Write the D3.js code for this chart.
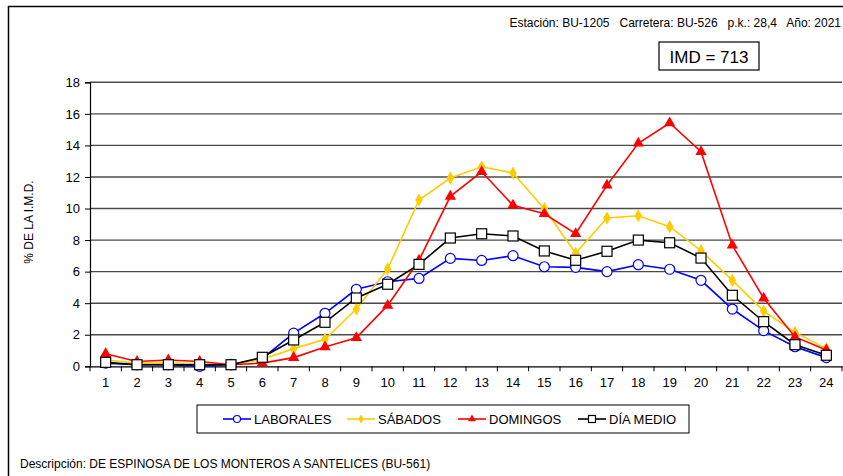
<!DOCTYPE html>
<html>
<head>
<meta charset="utf-8">
<script src="https://cdn.jsdelivr.net/npm/d3@7"></script>
<style>
  body { margin: 0; background: #fff; }
  text { font-family: "Liberation Sans", Arial, sans-serif; }
</style>
</head>
<body>
<script>
var hours = d3.range(1, 25);
var laborales = [0.2, 0.1, 0.1, 0.0, 0.1, 0.5, 2.1, 3.36, 4.88, 5.36, 5.57, 6.84, 6.71, 7.01, 6.31, 6.27, 6.0, 6.44, 6.15, 5.45, 3.63, 2.26, 1.24, 0.55];
var sabados = [0.4, 0.2, 0.2, 0.15, 0.1, 0.45, 1.12, 1.71, 3.63, 6.17, 10.54, 11.93, 12.65, 12.25, 9.99, 7.16, 9.4, 9.54, 8.85, 7.33, 5.45, 3.5, 2.15, 1.12];
var domingos = [0.8, 0.3, 0.4, 0.3, 0.1, 0.2, 0.55, 1.22, 1.81, 3.86, 6.72, 10.77, 12.33, 10.2, 9.67, 8.4, 11.47, 14.13, 15.42, 13.6, 7.67, 4.31, 1.86, 1.03];
var diaMedio = [0.25, 0.1, 0.1, 0.1, 0.1, 0.57, 1.67, 2.79, 4.33, 5.2, 6.46, 8.13, 8.4, 8.26, 7.31, 6.72, 7.29, 8.0, 7.83, 6.86, 4.5, 2.83, 1.37, 0.7];
var yTicks = [0, 2, 4, 6, 8, 10, 12, 14, 16, 18];

var series = [
  { name: 'LABORALES', values: laborales, color: '#0000FF', marker: 'circle' },
  { name: 'SÁBADOS', values: sabados, color: '#FFCC00', marker: 'diamond' },
  { name: 'DOMINGOS', values: domingos, color: '#FF0000', marker: 'triangle' },
  { name: 'DÍA MEDIO', values: diaMedio, color: '#000000', marker: 'square' }
];

var w = 843, h = 476;
var plotLeft = 90, plotRight = 842, plotTop = 82.3, plotBottom = 366.3;

var svg = d3.select('body').append('svg')
  .attr('width', w)
  .attr('height', h);

// outer frame (top and left edges visible)
svg.append('path')
  .attr('d', 'M8.5,476 V6.5 H843')
  .attr('fill', 'none')
  .attr('stroke', '#000')
  .attr('stroke-width', 1.5);

var x = d3.scaleBand().domain(hours).range([plotLeft, plotRight]);
var y = d3.scaleLinear().domain([0, 18]).range([plotBottom, plotTop]);

// gridlines
svg.append('g').selectAll('line')
  .data(yTicks.filter(d => d > 0))
  .enter().append('line')
    .attr('x1', plotLeft).attr('x2', plotRight)
    .attr('y1', d => y(d)).attr('y2', d => y(d))
    .attr('stroke', '#4a4a4a')
    .attr('stroke-width', 1.4);

// y axis
var yAxis = svg.append('g')
  .attr('transform', 'translate(' + plotLeft + ',0)')
  .call(d3.axisLeft(y).tickValues(yTicks).tickSize(5).tickPadding(5));
yAxis.select('.domain').attr('stroke', '#000').attr('stroke-width', 1.2);
yAxis.selectAll('line').attr('stroke', '#000');
yAxis.selectAll('text').attr('font-size', 13).attr('fill', '#000')
  .style('font-family', '"Liberation Sans", Arial, sans-serif');

// x axis, ticks between categories
var xAxis = svg.append('g')
  .attr('transform', 'translate(0,' + plotBottom + ')')
  .call(d3.axisBottom(x).tickSize(0).tickPadding(11));
xAxis.select('.domain').attr('stroke', '#000').attr('stroke-width', 1.2);
xAxis.selectAll('text').attr('font-size', 13).attr('fill', '#000')
  .style('font-family', '"Liberation Sans", Arial, sans-serif');
xAxis.selectAll('.sep')
  .data(d3.range(0, 25))
  .enter().append('line')
    .attr('x1', d => plotLeft + d * x.step()).attr('x2', d => plotLeft + d * x.step())
    .attr('y1', 0).attr('y2', 5)
    .attr('stroke', '#000');

// y axis title
svg.append('text')
  .attr('transform', 'translate(33,222) rotate(-90)')
  .attr('text-anchor', 'middle')
  .attr('font-size', 12)
  .text('% DE LA I.M.D.');

// header
svg.append('text')
  .attr('x', 841).attr('y', 27)
  .attr('text-anchor', 'end')
  .attr('font-size', 12)
  .style('white-space', 'pre')
  .text('Estación: BU-1205   Carretera: BU-526   p.k.: 28,4   Año: 2021');

svg.append('rect')
  .attr('x', 659).attr('y', 42).attr('width', 100).attr('height', 28)
  .attr('fill', '#fff').attr('stroke', '#000').attr('stroke-width', 1.2);
svg.append('text')
  .attr('x', 709).attr('y', 62.5)
  .attr('text-anchor', 'middle')
  .attr('font-size', 17)
  .text('IMD = 713');

function drawMarker(g, type, color, size) {
  if (type === 'circle') {
    g.append('circle').attr('r', size * 0.5)
      .attr('fill', '#fff').attr('stroke', color).attr('stroke-width', 1.2);
  } else if (type === 'square') {
    g.append('rect').attr('x', -size / 2).attr('y', -size / 2)
      .attr('width', size).attr('height', size)
      .attr('fill', '#fff').attr('stroke', color).attr('stroke-width', 1.2);
  } else if (type === 'diamond') {
    g.append('path').attr('d', d3.symbol(d3.symbolDiamond, size * size * 0.5)())
      .attr('fill', color);
  } else {
    g.append('path').attr('d', d3.symbol(d3.symbolTriangle, size * size * 0.55)())
      .attr('fill', color);
  }
}

var line = d3.line()
  .x((d, i) => x(hours[i]) + x.bandwidth() / 2)
  .y(d => y(d));

series.forEach(s => {
  svg.append('path')
    .datum(s.values)
    .attr('d', line)
    .attr('fill', 'none')
    .attr('stroke', s.color)
    .attr('stroke-width', 1.6);
  svg.append('g').selectAll('g')
    .data(s.values)
    .enter().append('g')
      .attr('transform', (d, i) => 'translate(' + (x(hours[i]) + x.bandwidth() / 2) + ',' + y(d) + ')')
      .each(function() { drawMarker(d3.select(this), s.marker, s.color, 10); });
});

// legend
svg.append('rect')
  .attr('x', 197).attr('y', 405).attr('width', 492).attr('height', 28)
  .attr('fill', '#fff').attr('stroke', '#000').attr('stroke-width', 1);

var legendX = [223, 347, 458, 578];
series.forEach((s, i) => {
  var g = svg.append('g').attr('transform', 'translate(' + legendX[i] + ',419)');
  g.append('line').attr('x1', 0).attr('x2', 28).attr('stroke', s.color).attr('stroke-width', 1.6);
  var m = g.append('g').attr('transform', 'translate(14,0)');
  drawMarker(m, s.marker, s.color, 7);
  g.append('text')
    .attr('x', 31).attr('y', 4.5)
    .attr('font-size', 13)
    .text(s.name);
});

// description
svg.append('text')
  .attr('x', 20).attr('y', 468)
  .attr('font-size', 12)
  .text('Descripción: DE ESPINOSA DE LOS MONTEROS A SANTELICES (BU-561)');
</script>
</body>
</html>
